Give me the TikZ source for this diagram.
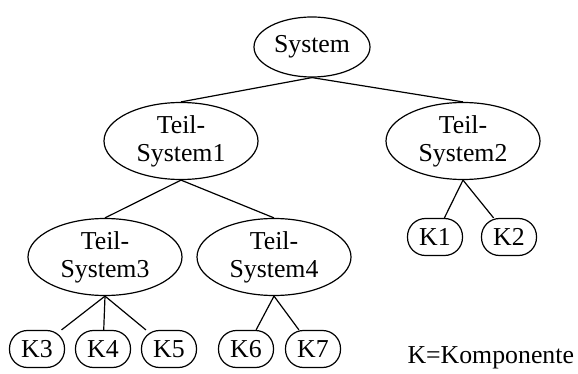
\documentclass[tikz,border=0pt]{standalone}
\usepackage{fontspec}
\setmainfont{Liberation Serif}
\usetikzlibrary{shapes.geometric, positioning}
\tikzstyle{sys}     = [draw, ellipse, line width=1.2pt, minimum width=116pt, minimum height=60pt, inner sep=0pt, align=center]
\tikzstyle{teil}    = [draw, ellipse, line width=1.2pt, minimum width=154pt, minimum height=77pt, inner sep=0pt, align=center]
\tikzstyle{komp}    = [draw, rounded corners=18pt, line width=1.2pt, minimum width=55pt, minimum height=37pt, inner sep=0pt]
\tikzstyle{edge}    = [line width=1.2pt]

\begin{document}
\begin{tikzpicture}[x=1pt, y=-1pt, font=\fontsize{25.8}{28}\selectfont]
\useasboundingbox (0,0) rectangle (578,374);

\node[sys]  (S)   at (312,47)  {System};

\node[teil] (TS1) at (181,141) {Teil-\\System1};
\node[teil] (TS2) at (463,141) {Teil-\\System2};
\node[teil] (TS3) at (105,257) {Teil-\\System3};
\node[teil] (TS4) at (274,257) {Teil-\\System4};

\node[komp] (K1)  at (435,237) {K1};
\node[komp] (K2)  at (509,237) {K2};
\node[komp] (K3)  at (37,349)  {K3};
\node[komp] (K4)  at (103,349) {K4};
\node[komp] (K5)  at (169,349) {K5};
\node[komp] (K6)  at (246,349) {K6};
\node[komp] (K7)  at (313,349) {K7};

\node[anchor=west] (L) at (404,358) {K=Komponente};

\draw[edge] (S.south) -- (TS1.north);
\draw[edge] (S.south) -- (TS2.north);

\draw[edge] (TS1.south) -- (TS3.north);
\draw[edge] (TS1.south) -- (TS4.north);

\draw[edge] (TS2.south) -- (K1);
\draw[edge] (TS2.south) -- (K2);

\draw[edge] (TS3.south) -- (K3);
\draw[edge] (TS3.south) -- (K4);
\draw[edge] (TS3.south) -- (K5);

\draw[edge] (TS4.south) -- (K6);
\draw[edge] (TS4.south) -- (K7);

\end{tikzpicture}
\end{document}
